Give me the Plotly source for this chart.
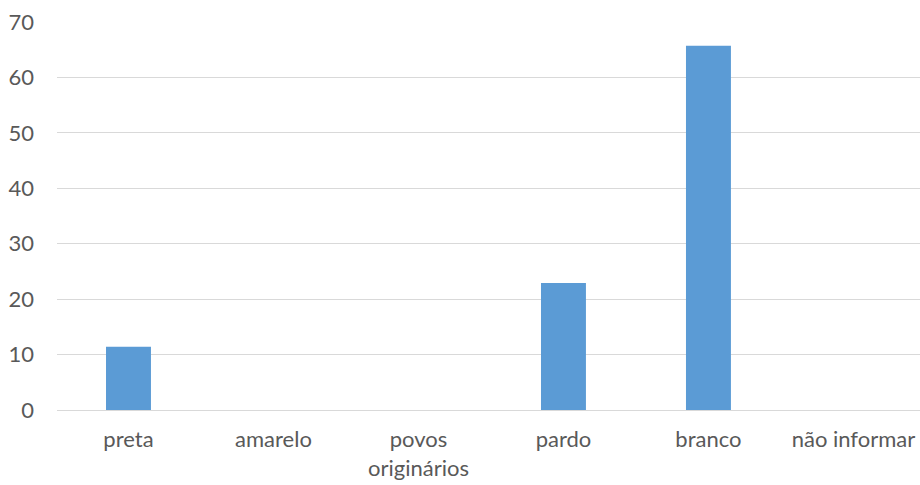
import plotly.graph_objects as go

categories = ["preta", "amarelo", "povos<br>originários", "pardo", "branco", "não informar"]
values = [11.4, 0, 0, 22.9, 65.7, 0]
y_ticks = [0, 10, 20, 30, 40, 50, 60, 70]

fig = go.Figure(go.Bar(x=categories, y=values, marker=dict(color="#5b9bd5", line=dict(width=0))))

font = dict(family="Lato, Open Sans, sans-serif", size=22, color="#595959")
fig.update_layout(
    width=920, height=485,
    margin=dict(l=57, r=0, t=22, b=75, autoexpand=False),
    plot_bgcolor="white", paper_bgcolor="white",
    bargap=0.69,
    showlegend=False,
    font=font,
)
fig.update_yaxes(range=[0, 70], tickvals=y_ticks, showgrid=True, gridcolor="#d9d9d9", gridwidth=1,
                 zeroline=True, zerolinecolor="#d9d9d9", zerolinewidth=1, showline=False,
                 ticklabelstandoff=22, tickfont=font, automargin=False)
fig.update_xaxes(range=[-0.493, 5.459], showgrid=False, showline=False, ticks="",
                 ticklabelstandoff=14, tickfont=font, automargin=False)

fig.write_html("out.html", config={"displayModeBar": False},
               post_script="document.body.style.margin='0';document.body.style.overflow='hidden';")
